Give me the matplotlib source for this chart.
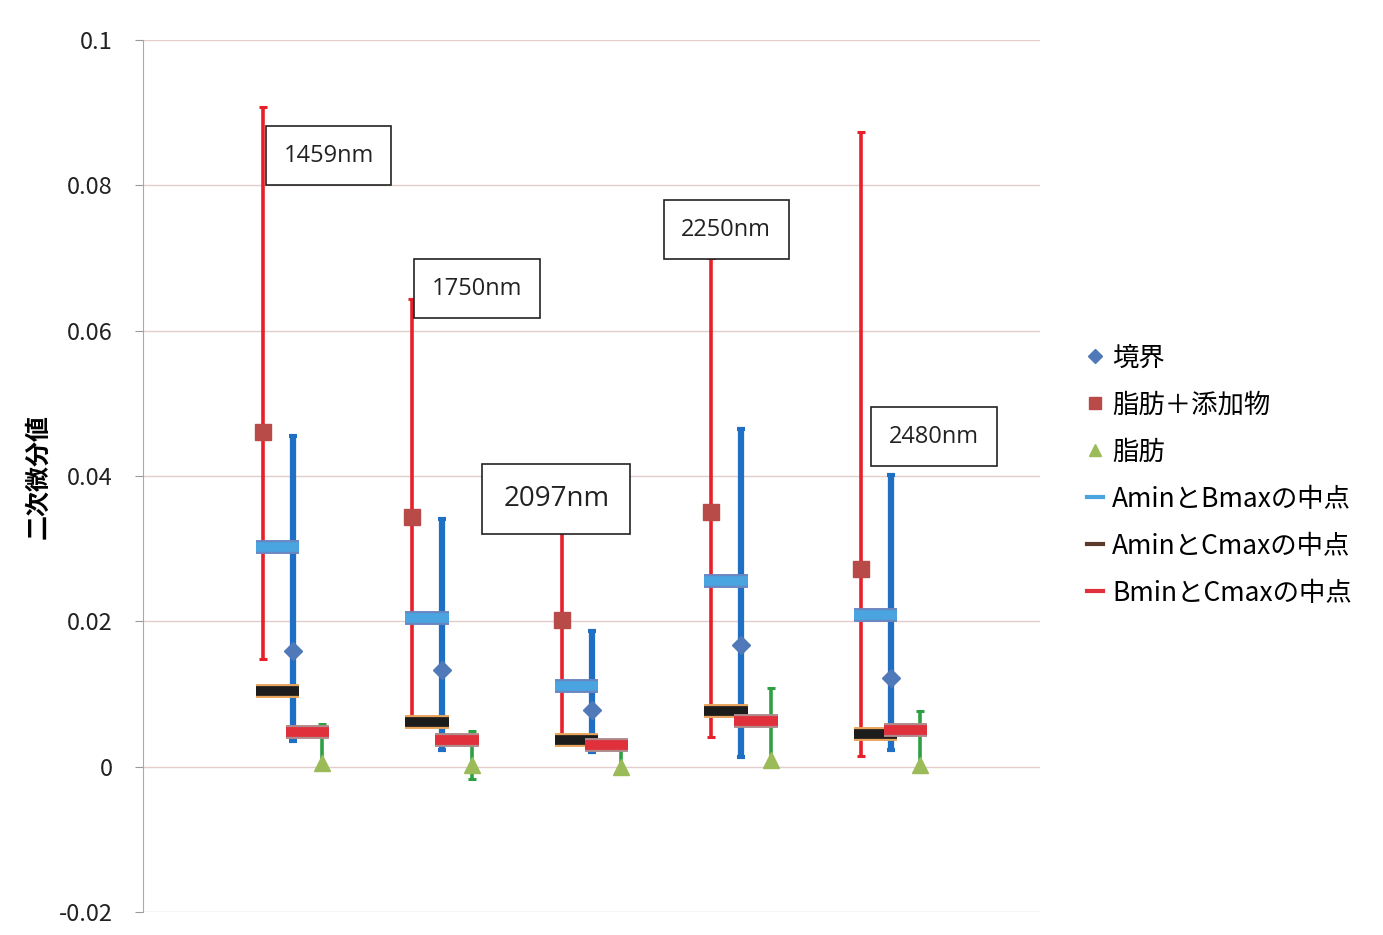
import matplotlib.pyplot as plt
import matplotlib.patheffects as pe
from matplotlib.lines import Line2D
from matplotlib.ticker import FuncFormatter

plt.rcParams['font.family'] = ['Noto Sans CJK JP', 'DejaVu Sans']

# wavelength groups, x position of 境界 is the group centre
labels = ['1459nm', '1750nm', '2097nm', '2250nm', '2480nm']
x_pos = [1, 2, 3, 4, 5]

# 境界 (blue diamond)
border = [0.0159, 0.0133, 0.0078, 0.0167, 0.0122]
border_min = [0.0035, 0.0023, 0.0020, 0.0013, 0.0023]
border_max = [0.0455, 0.0341, 0.0187, 0.0465, 0.0401]
# 脂肪＋添加物 (red square)
fat_add = [0.0461, 0.0344, 0.0202, 0.0350, 0.0272]
fat_add_min = [0.0148, 0.0061, 0.0037, 0.0041, 0.0015]
fat_add_max = [0.0908, 0.0643, 0.0338, 0.0700, 0.0873]
# 脂肪 (green triangle)
fat = [0.0005, 0.0002, 0.0000, 0.0009, 0.0002]
fat_min = [0.0000, -0.0017, -0.0007, 0.0006, -0.0007]
fat_max = [0.0059, 0.0049, 0.0034, 0.0108, 0.0077]
# midpoints
mid_ab = [0.0302, 0.0205, 0.0111, 0.0256, 0.0209]
mid_ac = [0.0104, 0.0061, 0.0037, 0.0077, 0.0045]
mid_bc = [0.0048, 0.0037, 0.0030, 0.0063, 0.0051]

off = 0.2
xr = [x - off for x in x_pos]
xg = [x + off for x in x_pos]

fig = plt.figure(figsize=(13.83, 9.35), dpi=100)
ax = fig.add_axes([0.1034, 0.0246, 0.6486, 0.9326])

ax.set_xlim(0, 6)
ax.set_ylim(-0.02, 0.1)
ax.set_yticks([-0.02, 0, 0.02, 0.04, 0.06, 0.08, 0.1])
ax.yaxis.set_major_formatter(FuncFormatter(lambda v, p: ('%g' % round(v, 3))))
ax.tick_params(axis='y', labelsize=17, length=6, color='#999999', pad=16,
               labelcolor='#222222')
ax.tick_params(axis='x', bottom=False, labelbottom=False)
ax.grid(axis='y', color='#e2cccc', lw=1)
ax.set_axisbelow(True)
for s in ['top', 'right', 'bottom']:
    ax.spines[s].set_visible(False)
ax.spines['left'].set_color('#aaaaaa')
ax.set_ylabel('二次微分値', fontsize=18, fontweight='bold', labelpad=6)

# error bars
ax.errorbar(xr, fat_add,
            yerr=[[a - b for a, b in zip(fat_add, fat_add_min)],
                  [b - a for a, b in zip(fat_add, fat_add_max)]],
            fmt='none', ecolor='#e8202a', elinewidth=2.6, capsize=3, capthick=2.2, zorder=2)
ax.errorbar(x_pos, border,
            yerr=[[a - b for a, b in zip(border, border_min)],
                  [b - a for a, b in zip(border, border_max)]],
            fmt='none', ecolor='#1f6fc4', elinewidth=4.5, capsize=3, capthick=3, zorder=2)
ax.errorbar(xg, fat,
            yerr=[[a - b for a, b in zip(fat, fat_min)],
                  [b - a for a, b in zip(fat, fat_max)]],
            fmt='none', ecolor='#2ea043', elinewidth=2.6, capsize=3, capthick=2.2, zorder=2)

# midpoint bars
pad = 0.045
def midbar(x0s, x1s, ys, fill, edge, z):
    for a, b, y in zip(x0s, x1s, ys):
        ax.plot([a - pad, b + pad], [y, y], color=fill, lw=7, solid_capstyle='butt',
                zorder=z, path_effects=[pe.Stroke(linewidth=10, foreground=edge,
                                                  capstyle='butt'), pe.Normal()])

midbar(xr, x_pos, mid_ab, '#49a4e0', '#6a86c0', 3)
midbar(xr, x_pos, mid_ac, '#1c1c1c', '#e8a45c', 3)
midbar(x_pos, xg, mid_bc, '#e0303c', '#b08a8a', 4)

# markers
ax.plot(x_pos, border, 'D', color='#4f79b8', ms=9, zorder=5, ls='none')
ax.plot(xr, fat_add, 's', color='#b84a48', ms=11, zorder=5, ls='none')
ax.plot(xg, fat, '^', color='#9bbb59', ms=12, zorder=5, ls='none')

# wavelength boxes
box_pos = [(0.94, 0.0841, 17), (1.93, 0.0658, 17), (2.41, 0.0368, 20),
           (3.60, 0.0739, 17), (4.99, 0.0454, 17)]
for t, (bx, by, fs) in zip(labels, box_pos):
    ax.text(bx, by, t, fontsize=fs, ha='left', va='center', color='#222222',
            family=['Open Sans', 'DejaVu Sans'],
            bbox=dict(boxstyle='square,pad=0.75', fc='white', ec='#222222', lw=1.2),
            zorder=6)

handles = [
    Line2D([], [], marker='D', color='#4f79b8', ls='none', ms=7),
    Line2D([], [], marker='s', color='#b84a48', ls='none', ms=9),
    Line2D([], [], marker='^', color='#9bbb59', ls='none', ms=9),
    Line2D([], [], color='#49a4e0', lw=3),
    Line2D([], [], color='#5a3a2a', lw=3),
    Line2D([], [], color='#e0303c', lw=3),
]
names = ['境界', '脂肪＋添加物', '脂肪', 'AminとBmaxの中点', 'AminとCmaxの中点', 'BminとCmaxの中点']
fig.legend(handles, names, loc='upper left', bbox_to_anchor=(0.769, 0.657),
           frameon=False, fontsize=19, handlelength=0.6, handletextpad=0.35,
           labelspacing=0.76)

fig.savefig('out.png', dpi=100, facecolor='white')
